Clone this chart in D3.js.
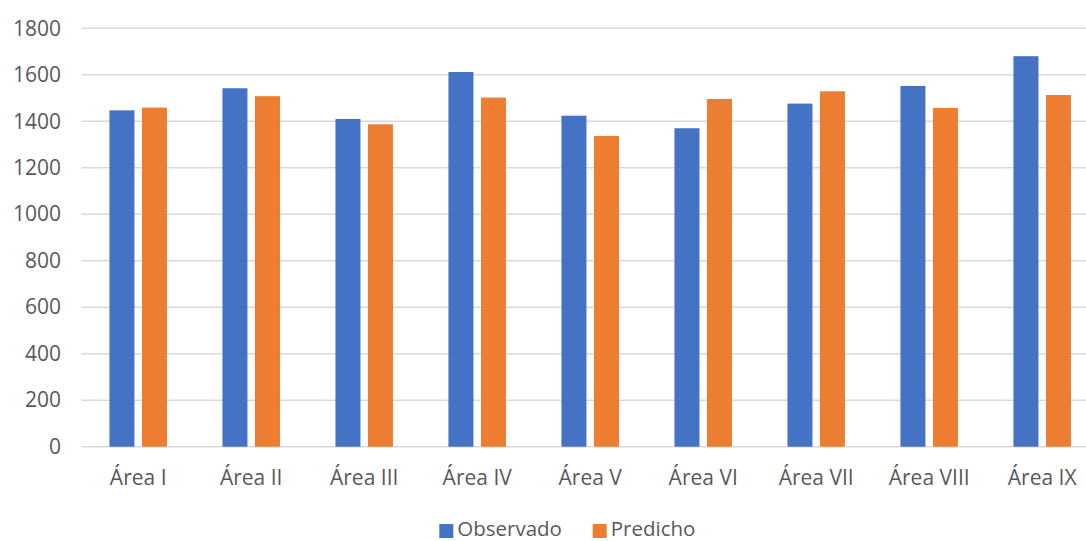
<!DOCTYPE html>
<html>
<head>
<meta charset="utf-8">
<script src="https://cdn.jsdelivr.net/npm/d3@7"></script>
<style>
  html, body { margin: 0; padding: 0; background: #fff; }
  svg { display: block; }
  text { font-family: "Open Sans", "Noto Sans", sans-serif; fill: #595959; }
</style>
</head>
<body>
<svg id="chart" width="1086" height="541"></svg>
<script>
// Data
const categories = ["Área I", "Área II", "Área III", "Área IV", "Área V", "Área VI", "Área VII", "Área VIII", "Área IX"];
const observado = [1447, 1542, 1410, 1612, 1424, 1370, 1476, 1552, 1680];
const predicho  = [1459, 1508, 1387, 1502, 1337, 1496, 1529, 1457, 1513];
const seriesNames = ["Observado", "Predicho"];
const seriesColors = ["#4472C4", "#ED7D31"];
const yTicks = [0, 200, 400, 600, 800, 1000, 1200, 1400, 1600, 1800];

const W = 1086, H = 541;
const plotLeft = 81.7, plotRight = 1098.7, plotTop = 28.3, plotBottom = 446.7;

const svg = d3.select("#chart");

const x0 = d3.scaleBand().domain(categories).range([plotLeft, plotRight]).padding(0);
const groupW = 57.5;
const x1 = d3.scaleBand().domain(seriesNames).range([-groupW / 2, groupW / 2]).paddingInner(0.2308).paddingOuter(0);
const y = d3.scaleLinear().domain([0, 1800]).range([plotBottom, plotTop]);

// Gridlines
svg.append("g")
  .selectAll("line")
  .data(yTicks)
  .join("line")
  .attr("x1", plotLeft)
  .attr("x2", W)
  .attr("y1", d => y(d))
  .attr("y2", d => y(d))
  .attr("stroke", "#d9d9d9")
  .attr("stroke-width", 1.5);

// Y axis labels
const yAxis = d3.axisLeft(y).tickValues(yTicks).tickSize(0).tickPadding(0).tickFormat(d3.format("d"));
const gy = svg.append("g").attr("transform", `translate(61,0)`).call(yAxis);
gy.select(".domain").remove();
gy.selectAll("text")
  .attr("font-size", 21)
  .attr("fill", "#595959")
  .style("font-family", "'Open Sans', 'Noto Sans', sans-serif");

// Bars
const rows = categories.map((c, i) => ({ cat: c, vals: [observado[i], predicho[i]] }));
const groups = svg.append("g")
  .selectAll("g")
  .data(rows)
  .join("g")
  .attr("transform", d => `translate(${x0(d.cat) + x0.bandwidth() / 2},0)`);

groups.selectAll("rect")
  .data(d => d.vals.map((v, k) => ({ name: seriesNames[k], v, k })))
  .join("rect")
  .attr("x", d => x1(d.name))
  .attr("width", x1.bandwidth())
  .attr("y", d => y(d.v))
  .attr("height", d => y(0) - y(d.v))
  .attr("fill", d => seriesColors[d.k]);

// X axis labels
const xAxis = d3.axisBottom(x0).tickSize(0).tickPadding(0);
const gx = svg.append("g").attr("transform", `translate(0,${plotBottom})`).call(xAxis);
gx.select(".domain").remove();
gx.selectAll("text")
  .attr("dy", null)
  .attr("y", 38.5)
  .attr("font-size", 21)
  .attr("fill", "#595959")
  .style("font-family", "'Open Sans', 'Noto Sans', sans-serif");

// Legend
const legendItems = [
  { name: seriesNames[0], color: seriesColors[0], x: 439.3 },
  { name: seriesNames[1], color: seriesColors[1], x: 592.7 }
];
const lg = svg.append("g");
lg.selectAll("rect")
  .data(legendItems)
  .join("rect")
  .attr("x", d => d.x)
  .attr("y", 524)
  .attr("width", 14)
  .attr("height", 14)
  .attr("fill", d => d.color);
lg.selectAll("text")
  .data(legendItems)
  .join("text")
  .attr("x", d => d.x + 18)
  .attr("y", 536)
  .attr("font-size", 20.5)
  .text(d => d.name);
</script>
</body>
</html>
